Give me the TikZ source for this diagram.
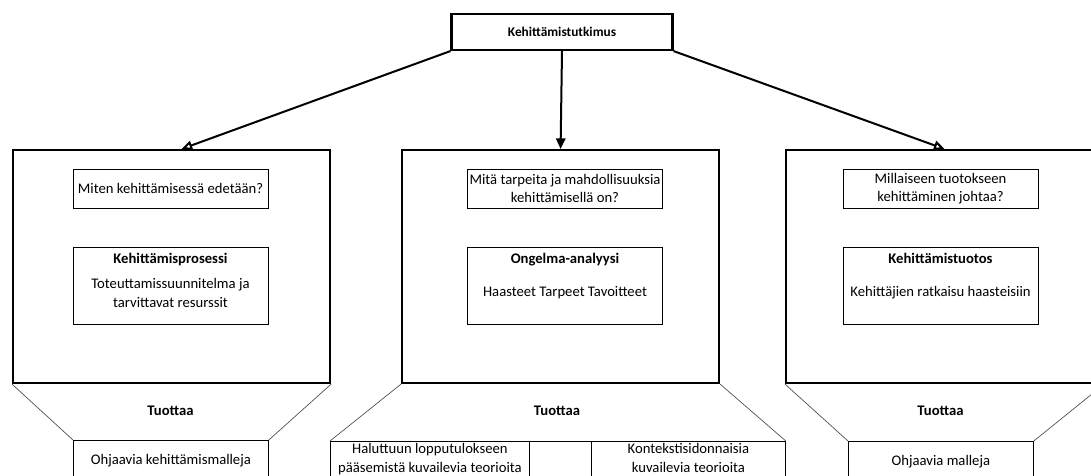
\documentclass[tikz,border=0pt]{standalone}
\usepackage{fontspec}
\setmainfont{Carlito}
\usetikzlibrary{positioning,arrows.meta}
\newcommand{\pxu}{0.75pt}
\tikzset{
  topbox/.style={draw,line width=1.6pt,minimum width=221*\pxu,minimum height=36*\pxu,inner sep=0pt,font=\fontsize{10}{12}\selectfont\bfseries},
  phase/.style={draw,line width=1.6pt,minimum width=317*\pxu,minimum height=233*\pxu,inner sep=0pt,anchor=north west},
  qbox/.style={draw,line width=0.6pt,minimum width=195*\pxu,minimum height=39*\pxu,inner sep=0pt,align=center},
  cbox/.style={draw,line width=0.6pt,minimum width=195*\pxu,minimum height=77*\pxu,inner sep=0pt},
  outbox/.style={draw,line width=0.6pt,minimum height=60*\pxu,inner sep=0pt,anchor=north west},
  txt/.style={align=center,inner sep=0pt},
  funnel/.style={draw=black!70,line width=0.5pt},
  arr/.style={line width=1.5pt,-{Triangle[open,length=8pt,width=7pt]}},
  arrc/.style={line width=1.5pt,-{Triangle[length=8pt,width=7pt]}}
}

\begin{document}
\begin{tikzpicture}[x=\pxu,y=-\pxu,font=\fontsize{11}{14}\selectfont]
\clip (0,0) rectangle (1091,475);
\fill[white] (0,0) rectangle (1091,475);

% research at the top
\node[topbox] (study) at (562,32) {Kehittämistutkimus};

% three phases
\node[phase] (devproc) at (12,149) {};
\node[phase] (analysis) at (401,149) {};
\node[phase] (product) at (785,149) {};

\draw[arr] (study.south west) -- ([xshift=10*\pxu]devproc.north);
\draw[arrc] (study.south) -- (analysis.north);
\draw[arr] (study.south east) -- (product.north);

% left phase
\node[qbox] (q1) at (170.5,188.5) {Miten kehittämisessä edetään?};
\node[cbox] (c1) at (170.5,285.5) {};
\node[txt,anchor=north] (c1t) at ([yshift=-6*\pxu]c1.north) {\textbf{Kehittämisprosessi}\\[5pt]Toteuttamissuunnitelma ja\\tarvittavat resurssit};

% middle phase
\node[qbox] (q2) at (565,188.5) {Mitä tarpeita ja mahdollisuuksia\\kehittämisellä on?};
\node[cbox] (c2) at (565,285.5) {};
\node[txt,anchor=north] (c2t) at ([yshift=-6*\pxu]c2.north) {\textbf{Ongelma-analyysi}\\[11pt]Haasteet Tarpeet Tavoitteet};

% right phase
\node[qbox] (q3) at (940.5,188.5) {Millaiseen tuotokseen\\kehittäminen johtaa?};
\node[cbox] (c3) at (940.5,285.5) {};
\node[txt,anchor=north] (c3t) at ([yshift=-6*\pxu]c3.north) {\textbf{Kehittämistuotos}\\[11pt]Kehittäjien ratkaisu haasteisiin};

% outputs
\node[txt] (y1) at (170.5,411) {\textbf{Tuottaa}};
\node[txt] (y2) at (557,411) {\textbf{Tuottaa}};
\node[txt] (y3) at (940.5,411) {\textbf{Tuottaa}};

\node[outbox,minimum width=195*\pxu] (o1) at (73,440) {};
\node[txt,anchor=north] at ([yshift=-14*\pxu]o1.north) {Ohjaavia kehittämismalleja};

\node[outbox,minimum width=199*\pxu] (o2a) at (330,441) {};
\node[outbox,minimum width=62*\pxu] (o2b) at (529,441) {};
\node[outbox,minimum width=194*\pxu] (o2c) at (591,441) {};
\node[txt,anchor=north] at ([yshift=-2*\pxu]o2a.north) {Haluttuun lopputulokseen\\pääsemistä kuvailevia teorioita};
\node[txt,anchor=north] at ([yshift=-2*\pxu]o2c.north) {Kontekstisidonnaisia\\kuvailevia teorioita};

\node[outbox,minimum width=185*\pxu] (o3) at (848,441) {};
\node[txt,anchor=north] at ([yshift=-14*\pxu]o3.north) {Ohjaavia malleja};

\draw[funnel] (devproc.south west) -- (o1.north west);
\draw[funnel] (devproc.south east) -- (o1.north east);
\draw[funnel] (analysis.south west) -- (o2a.north west);
\draw[funnel] (analysis.south east) -- (o2c.north east);
\draw[funnel] (product.south west) -- (o3.north west);
\draw[funnel] (product.south east) -- (o3.north east);
\end{tikzpicture}
\end{document}
